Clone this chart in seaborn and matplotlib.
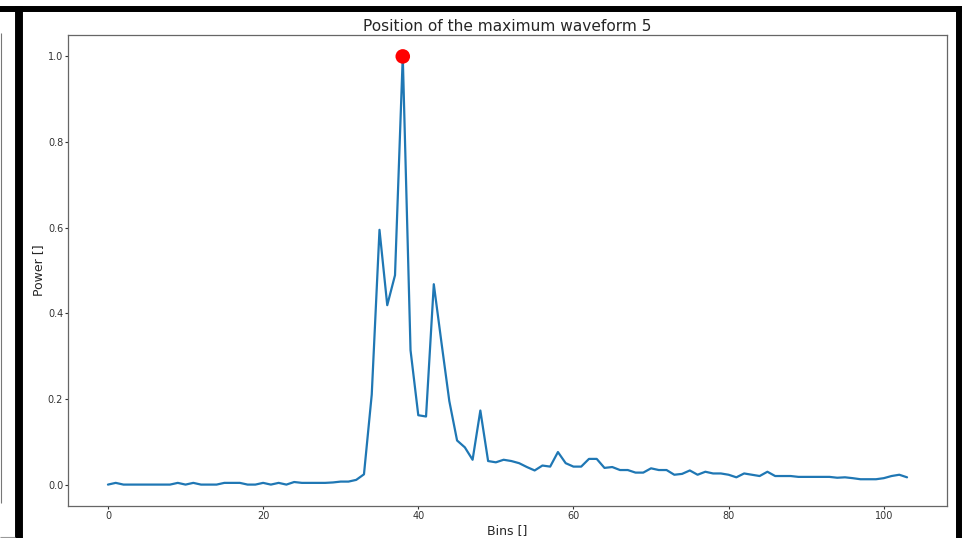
import numpy as np
import pandas as pd
import matplotlib
matplotlib.use("Agg")
import matplotlib.pyplot as plt
from matplotlib.lines import Line2D
import seaborn as sns


# power per bin (normalised, bins 0..103)
power_low = [
    0.0, 0.004, 0.0, 0.0, 0.0, 0.0, 0.0, 0.0, 0.0, 0.004,
    0.0, 0.004, 0.0, 0.0, 0.0, 0.004, 0.004, 0.004, 0.0, 0.0,
    0.004, 0.0, 0.004, 0.0, 0.006, 0.004, 0.004, 0.004, 0.004, 0.005,
    0.007, 0.007, 0.011, 0.024,
]
power_peak = [
    0.21, 0.595, 0.419, 0.489, 1.0, 0.314, 0.162, 0.159, 0.468, 0.33,
    0.195, 0.103, 0.087, 0.058, 0.173, 0.055, 0.052, 0.058, 0.055, 0.05,
    0.041, 0.033,
]
power_tail = [
    0.0445, 0.042, 0.076, 0.05, 0.042, 0.042, 0.06, 0.06, 0.039, 0.041,
    0.034, 0.034, 0.028, 0.028, 0.038, 0.034, 0.034, 0.023, 0.025, 0.033,
    0.023, 0.030, 0.026, 0.026, 0.023, 0.017, 0.026, 0.023, 0.02, 0.030,
    0.02, 0.02, 0.02, 0.018, 0.018, 0.018, 0.018, 0.018, 0.016, 0.017,
    0.015, 0.0125, 0.0125, 0.0125, 0.015, 0.02, 0.023, 0.017,
]
power = np.array(power_low + power_peak + power_tail)
bins = np.arange(len(power))

TITLE = "Position of the maximum waveform 5"
X_LABEL = "Bins []"
Y_LABEL = "Power []"

df = pd.DataFrame({"bin": bins, "power": power})
max_idx = int(np.argmax(power))
df_max = df.iloc[[max_idx]]

sns.set_style("ticks")
plt.rcParams["font.family"] = ["DejaVu Sans"]

W, H = 966, 538
fig = plt.figure(figsize=(W / 100, H / 100), dpi=100)
ax = fig.add_axes([68 / W, 1 - 506 / H, (947 - 68) / W, (506 - 35) / H])

sns.lineplot(data=df, x="bin", y="power", ax=ax, color="#1f77b4", linewidth=1.6)
sns.scatterplot(data=df_max, x="bin", y="power", ax=ax, color="red",
                s=110, edgecolor="none", zorder=3)

ax.set_xlim(-5.15, 108.15)
ax.set_ylim(-0.05, 1.05)
ax.set_xticks([0, 20, 40, 60, 80, 100])
ax.set_yticks([0.0, 0.2, 0.4, 0.6, 0.8, 1.0])
ax.set_yticklabels(["0.0", "0.2", "0.4", "0.6", "0.8", "1.0"])
ax.tick_params(labelsize=7, length=2, width=0.8, pad=1.5, colors="#333333")
ax.set_title(TITLE, fontsize=11.1, pad=3)
ax.set_xlabel(X_LABEL, fontsize=9, labelpad=2)
ax.set_ylabel(Y_LABEL, fontsize=9, labelpad=2)
for side in ["top", "right", "bottom", "left"]:
    ax.spines[side].set_visible(True)
    ax.spines[side].set_color("#666666")
    ax.spines[side].set_linewidth(0.9)


# screenshot frame around the figure
def px_line(x0, y0, x1, y1, lw, color="black"):
    fig.add_artist(Line2D([x0 / W, x1 / W], [1 - y0 / H, 1 - y1 / H],
                          transform=fig.transFigure, color=color,
                          linewidth=lw, solid_capstyle="butt"))


px_line(0, 9, 962, 9, 4.3)
px_line(19, 6, 19, H, 5.7)
px_line(959, 6, 959, H, 4.3)
px_line(1, 33, 1, 503, 0.8, color="#777777")
px_line(0, 536.5, 15, 536.5, 0.8, color="#999999")

fig.savefig("out.png", dpi=100)
